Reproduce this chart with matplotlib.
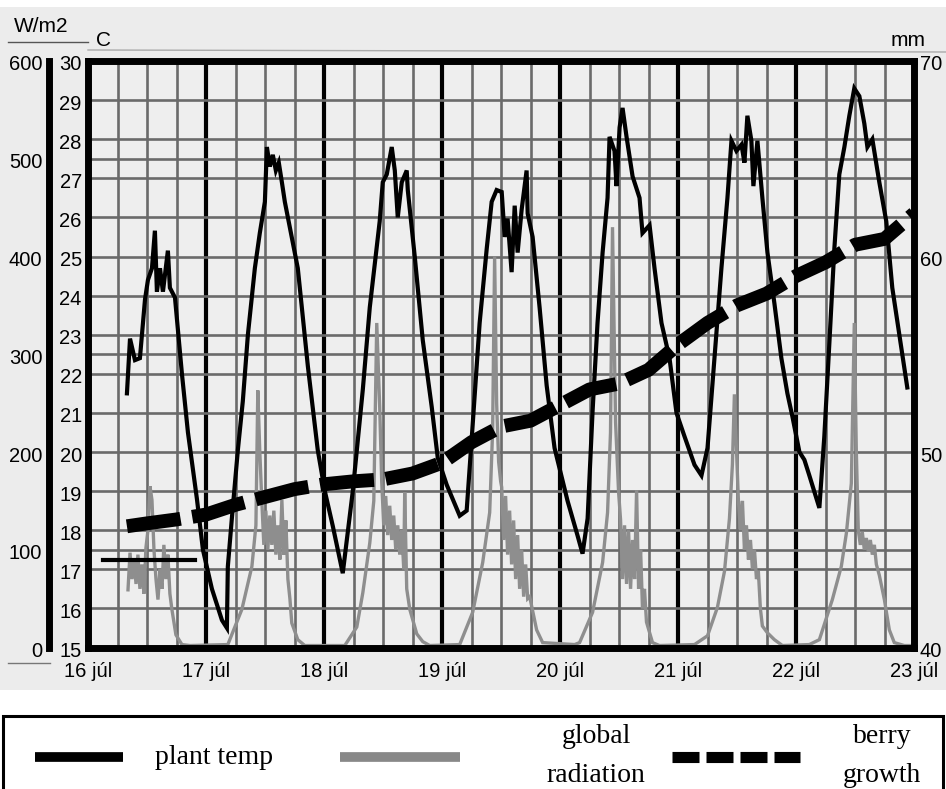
import matplotlib
matplotlib.use("Agg")
import matplotlib.pyplot as plt
from matplotlib import font_manager
from matplotlib.patches import Rectangle
from matplotlib.lines import Line2D
from matplotlib.ticker import FixedLocator, MultipleLocator
from matplotlib.transforms import ScaledTranslation

# ---------------- data ----------------
day_ticks = [16, 17, 18, 19, 20, 21, 22, 23]
day_labels = ["16 júl", "17 júl", "18 júl", "19 júl", "20 júl", "21 júl", "22 júl", "23 júl"]
temp_ticks = list(range(15, 31))
rad_ticks = [0, 100, 200, 300, 400, 500, 600]
mm_ticks = [40, 50, 60, 70]

temp_days = [16.330, 16.356, 16.398, 16.440, 16.483, 16.508, 16.542, 16.567, 16.584, 16.610,
             16.635, 16.677, 16.694, 16.737, 16.796, 16.847, 16.923, 16.974, 17.050, 17.135,
             17.177, 17.185, 17.219, 17.270, 17.312, 17.355, 17.414, 17.456, 17.499, 17.516,
             17.541, 17.566, 17.592, 17.617, 17.643, 17.668, 17.778, 17.863, 17.947, 18.007,
             18.075, 18.159, 18.244, 18.329, 18.388, 18.472, 18.498, 18.532, 18.574, 18.600,
             18.625, 18.659, 18.701, 18.710, 18.769, 18.837, 18.913, 18.964, 19.040, 19.150,
             19.209, 19.260, 19.319, 19.379, 19.421, 19.463, 19.506, 19.531, 19.556, 19.590,
             19.616, 19.641, 19.675, 19.717, 19.726, 19.768, 19.827, 19.887, 19.954, 20.064,
             20.149, 20.191, 20.234, 20.276, 20.318, 20.361, 20.403, 20.420, 20.462, 20.479,
             20.505, 20.530, 20.564, 20.615, 20.674, 20.699, 20.759, 20.801, 20.860, 20.928,
             20.987, 21.055, 21.140, 21.199, 21.250, 21.309, 21.368, 21.419, 21.453, 21.495,
             21.538, 21.563, 21.588, 21.622, 21.639, 21.673, 21.715, 21.758, 21.817, 21.876,
             21.927, 21.970, 22.029, 22.071, 22.113, 22.198, 22.240, 22.283, 22.325, 22.367,
             22.410, 22.452, 22.494, 22.537, 22.579, 22.605, 22.647, 22.706, 22.765, 22.816,
             22.876, 22.943]
temp_vals = [21.5, 22.9, 22.35, 22.4, 23.9, 24.4, 24.7, 25.66, 24.1, 24.7,
             24.1, 25.15, 24.2, 23.95, 22.0, 20.5, 18.8, 17.5, 16.5, 15.7,
             15.5, 17.07, 18.3, 20.05, 21.3, 23.0, 24.7, 25.6, 26.4, 27.8,
             27.3, 27.6, 27.2, 27.4, 26.9, 26.4, 24.7, 22.2, 20.05, 19.0,
             18.1, 16.9, 19.0, 21.6, 23.7, 25.9, 26.9, 27.1, 27.8, 27.2,
             26.0, 26.9, 27.2, 26.7, 25.0, 22.86, 21.15, 19.85, 19.16, 18.37,
             18.5, 20.7, 23.3, 25.2, 26.4, 26.7, 26.65, 25.5, 25.97, 24.6,
             26.3, 25.1, 26.2, 27.2, 26.1, 25.5, 23.7, 21.7, 20.1, 18.75,
             17.86, 17.4, 18.3, 21.04, 23.3, 25.1, 26.5, 28.06, 27.7, 26.8,
             28.3, 28.8, 28.06, 27.05, 26.5, 25.6, 25.8, 24.7, 23.3, 22.4,
             21.0, 20.4, 19.67, 19.4, 20.1, 22.4, 24.7, 26.5, 27.96, 27.7,
             27.86, 27.4, 28.6, 27.96, 26.8, 27.96, 26.5, 25.1, 23.8, 22.4,
             21.5, 20.9, 20.0, 19.8, 19.4, 18.57, 20.4, 22.8, 25.2, 27.1,
             27.8, 28.6, 29.3, 29.1, 28.4, 27.8, 28.0, 26.9, 25.9, 24.2,
             23.0, 21.65]

rad_days = [
    # 16 jul
    16.339, 16.356, 16.373, 16.390, 16.407, 16.423, 16.440, 16.457, 16.474, 16.491,
    16.508, 16.525, 16.542, 16.559, 16.576, 16.593, 16.610, 16.627, 16.643, 16.660,
    16.677, 16.694, 16.711, 16.745, 16.796, 16.864,
    # 17 jul
    17.185, 17.304, 17.389, 17.423, 17.439, 17.456, 17.473, 17.490, 17.507, 17.524,
    17.541, 17.558, 17.575, 17.592, 17.609, 17.626, 17.643, 17.660, 17.677, 17.694,
    17.711, 17.727, 17.778, 17.837,
    # 18 jul
    18.176, 18.278, 18.329, 18.388, 18.422, 18.447, 18.472, 18.489, 18.506, 18.523,
    18.540, 18.557, 18.574, 18.591, 18.608, 18.625, 18.642, 18.659, 18.676, 18.684,
    18.701, 18.727, 18.786, 18.837, 18.896,
    # 19 jul
    19.150, 19.260, 19.345, 19.404, 19.429, 19.446, 19.463, 19.480, 19.497, 19.506,
    19.522, 19.539, 19.556, 19.573, 19.590, 19.607, 19.624, 19.641, 19.658, 19.675,
    19.692, 19.709, 19.726, 19.743, 19.802, 19.853,
    # 20 jul
    20.124, 20.166, 20.276, 20.361, 20.403, 20.428, 20.445, 20.471, 20.496, 20.513,
    20.530, 20.547, 20.564, 20.581, 20.598, 20.615, 20.632, 20.649, 20.666, 20.683,
    20.699, 20.716, 20.733, 20.784, 20.843,
    # 21 jul
    21.140, 21.250, 21.334, 21.394, 21.436, 21.461, 21.478, 21.495, 21.512, 21.529,
    21.546, 21.563, 21.580, 21.597, 21.614, 21.631, 21.648, 21.665, 21.681, 21.698,
    21.715, 21.758, 21.817, 21.885,
    # 22 jul
    22.113, 22.198, 22.308, 22.384, 22.427, 22.469, 22.494, 22.511, 22.528, 22.545,
    22.562, 22.579, 22.596, 22.613, 22.630, 22.647, 22.664, 22.681, 22.706, 22.749,
    22.791, 22.833, 22.918, 22.990]
rad_vals = [
    59, 97, 70, 90, 65, 95, 60, 85, 55, 102,
    120, 165, 151, 100, 70, 49, 80, 60, 105, 70,
    95, 55, 39, 13, 3, 2,
    3, 39, 83, 125, 263, 200, 150, 105, 140, 100,
    135, 105, 140, 95, 125, 90, 151, 95, 130, 70,
    50, 25, 8, 2,
    2, 21, 56, 107, 150, 332, 246, 170, 125, 155,
    115, 145, 110, 135, 100, 125, 95, 120, 80, 159,
    60, 39, 14, 6, 2,
    3, 36, 87, 138, 222, 400, 250, 190, 170, 164,
    110, 155, 95, 140, 85, 130, 70, 115, 60, 100,
    52, 85, 50, 52, 18, 5,
    3, 5, 36, 87, 138, 220, 430, 230, 160, 131,
    70, 125, 65, 120, 60, 110, 70, 161, 60, 100,
    40, 60, 26, 5, 2,
    3, 12, 41, 78, 132, 187, 259, 205, 150, 120,
    150, 100, 125, 90, 110, 80, 100, 70, 78, 40,
    22, 15, 8, 2,
    3, 8, 49, 83, 117, 168, 332, 202, 120, 105,
    118, 100, 112, 98, 110, 95, 105, 85, 74, 49,
    18, 5, 2, 2]

berry_days = [16.33, 16.5, 16.75, 17.0, 17.25, 17.5, 17.75, 18.0, 18.25, 18.5,
              18.75, 19.0, 19.25, 19.5, 19.75, 20.0, 20.25, 20.5, 20.75, 21.0,
              21.25, 21.5, 21.75, 22.0, 22.25, 22.5, 22.75, 23.0]
berry_vals = [46.2, 46.35, 46.55, 46.8, 47.3, 47.7, 48.1, 48.35, 48.5, 48.6,
              48.9, 49.45, 50.5, 51.3, 51.6, 52.4, 53.2, 53.5, 54.2, 55.5,
              56.6, 57.5, 58.1, 59.0, 59.7, 60.6, 60.9, 62.2]

stray_days = [16.127, 16.907]
stray_temp = [17.24, 17.24]

# ---------------- fonts ----------------
names = {f.name for f in font_manager.fontManager.ttflist}
if "Liberation Sans Narrow" in names:
    SANS, FS = "Liberation Sans Narrow", 16.5
else:
    SANS, FS = "Liberation Sans", 14.5
SERIF = "Liberation Serif"

# ---------------- figure ----------------
W, H = 946, 789
fig = plt.figure(figsize=(W / 100, H / 100), dpi=100)
fig.patch.set_facecolor("white")


def fx(px):
    return px / W


def fy(py):
    return 1 - py / H


fig.add_artist(Rectangle((0, fy(690)), 1, fy(7) - fy(690), transform=fig.transFigure,
                         facecolor="#ececec", edgecolor="none", zorder=-10))

rect = [fx(88), fy(647.5), fx(914) - fx(88), fy(61) - fy(647.5)]

# grid axes
ax_g = fig.add_axes(rect, zorder=0)
ax_g.set_facecolor("#eeeeee")
ax_g.set_xlim(16, 23)
ax_g.set_ylim(15, 30)
ax_g.xaxis.set_major_locator(FixedLocator(day_ticks))
ax_g.xaxis.set_minor_locator(MultipleLocator(0.25))
ax_g.yaxis.set_major_locator(FixedLocator(temp_ticks))
ax_g.yaxis.set_minor_locator(FixedLocator([17.5, 22.5, 27.5]))
ax_g.grid(which="major", axis="x", color="black", lw=3.0)
ax_g.grid(which="minor", axis="x", color="#6a6a6a", lw=1.9)
ax_g.grid(which="both", axis="y", color="#6a6a6a", lw=1.9)
ax_g.tick_params(which="both", length=0, labelbottom=False, labelleft=False)
for s in ax_g.spines.values():
    s.set_visible(False)

# radiation axes
ax_r = fig.add_axes(rect, zorder=1)
ax_r.patch.set_visible(False)
ax_r.set_xlim(16, 23)
ax_r.set_ylim(0, 600)
ax_r.plot(rad_days, rad_vals, color="#8e8e8e", lw=2.4, solid_joinstyle="miter")
ax_r.set_xticks([])
ax_r.yaxis.set_major_locator(FixedLocator(rad_ticks))
ax_r.tick_params(axis="y", length=0, pad=4.5, labelsize=FS, labelfontfamily=SANS)
for name in ["top", "right", "bottom"]:
    ax_r.spines[name].set_visible(False)
ax_r.spines["left"].set_position(("outward", 28.4))
ax_r.spines["left"].set_linewidth(5)
ax_r.spines["left"].set_bounds(0, 600)

# berry axes
ax_m = fig.add_axes(rect, zorder=2)
ax_m.patch.set_visible(False)
ax_m.set_xlim(16, 23)
ax_m.set_ylim(40, 70)
ax_m.plot(berry_days, berry_vals, color="black", lw=10, linestyle=(0, (3.9, 0.85)),
          dash_capstyle="butt")
ax_m.set_xticks([])
ax_m.yaxis.tick_right()
ax_m.yaxis.set_major_locator(FixedLocator(mm_ticks))
ax_m.tick_params(axis="y", length=0, pad=4.3, labelsize=FS, labelfontfamily=SANS)
for s in ax_m.spines.values():
    s.set_visible(False)

# temperature axes
ax_t = fig.add_axes(rect, zorder=3)
ax_t.patch.set_visible(False)
ax_t.set_xlim(16, 23)
ax_t.set_ylim(15, 30)
ax_t.plot(temp_days, temp_vals, color="black", lw=3.0, solid_joinstyle="miter")
ax_t.plot(stray_days, stray_temp, color="black", lw=3.0)
ax_t.set_xticks(day_ticks)
ax_t.set_xticklabels(day_labels)
ax_t.set_yticks(temp_ticks)
ax_t.tick_params(axis="both", length=0, labelsize=FS, labelfontfamily=SANS)
ax_t.tick_params(axis="y", pad=4.5)
ax_t.tick_params(axis="x", pad=10.5)
for s in ax_t.spines.values():
    s.set_linewidth(5)
    s.set_color("black")

shift = ScaledTranslation(0, -2 / 100, fig.dpi_scale_trans)
for lab in ax_t.get_yticklabels() + ax_r.get_yticklabels() + ax_m.get_yticklabels():
    lab.set_transform(lab.get_transform() + shift)

# unit labels and decorations
fig.text(fx(41), fy(26), "W/m2", ha="center", va="center", fontsize=15, family=SANS)
fig.text(fx(103), fy(41), "C", ha="center", va="center", fontsize=15, family=SANS)
fig.text(fx(908), fy(41), "mm", ha="center", va="center", fontsize=15, family=SANS)
fig.add_artist(Line2D([fx(8), fx(88)], [fy(42), fy(42)], color="#555555", lw=1.0))
fig.add_artist(Line2D([fx(88), 1.0], [fy(50), fy(52)], color="#aaaaaa", lw=1.0))
fig.add_artist(Line2D([fx(8), fx(50)], [fy(663), fy(663)], color="#777777", lw=1.0))

# legend box
fig.add_artist(Rectangle((fx(3), fy(800)), fx(943) - fx(3), fy(716) - fy(800),
                         transform=fig.transFigure, facecolor="white",
                         edgecolor="black", lw=2.2, zorder=5))
fig.add_artist(Line2D([fx(35), fx(123)], [fy(757), fy(757)], color="black", lw=7,
                      solid_capstyle="butt", zorder=6))
fig.add_artist(Line2D([fx(340), fx(460)], [fy(757), fy(757)], color="#888888", lw=7,
                      solid_capstyle="butt", zorder=6))
fig.add_artist(Line2D([fx(672), fx(800)], [fy(757), fy(757)], color="black", lw=8,
                      linestyle=(0, (2.43, 0.63)), dash_capstyle="butt", zorder=6))
fig.text(fx(214), fy(757), "plant temp", ha="center", va="center", fontsize=20,
         family=SERIF, zorder=6)
fig.text(fx(596), fy(756), "global\nradiation", ha="center", va="center", fontsize=20,
         family=SERIF, linespacing=1.75, zorder=6)
fig.text(fx(882), fy(756), "berry\ngrowth", ha="center", va="center", fontsize=20,
         family=SERIF, linespacing=1.75, zorder=6)

fig.savefig("out.png", dpi=100)
